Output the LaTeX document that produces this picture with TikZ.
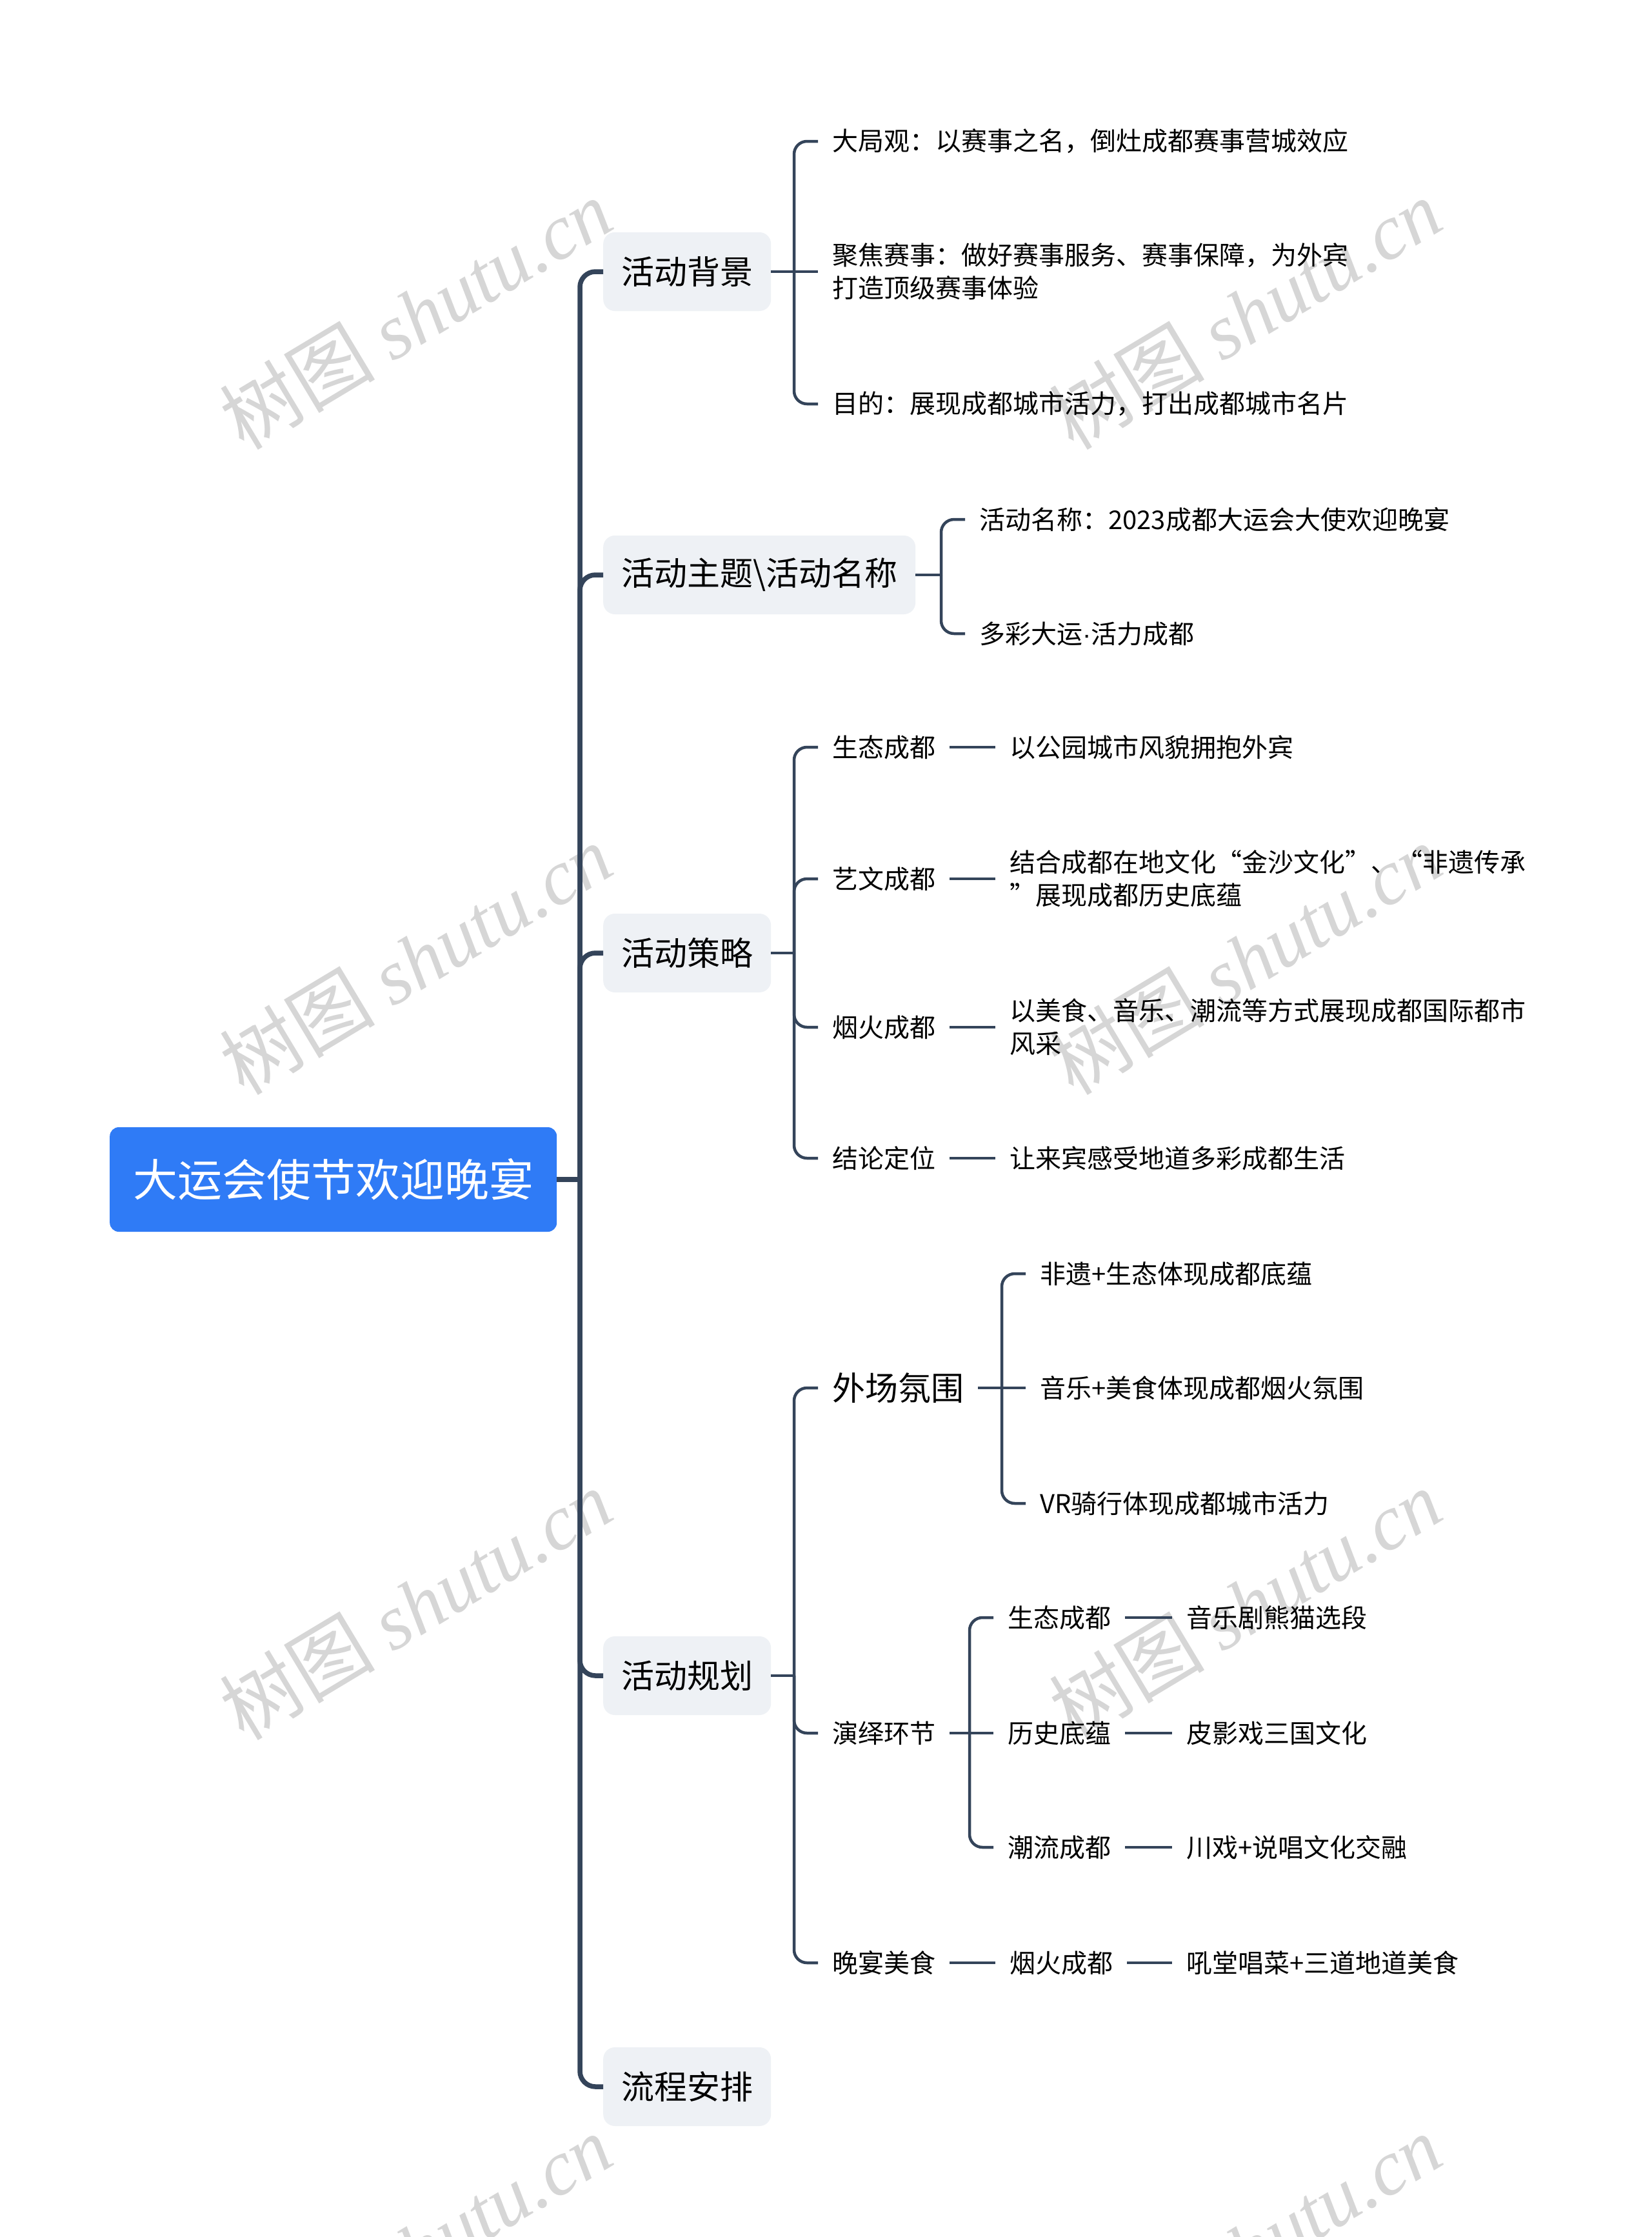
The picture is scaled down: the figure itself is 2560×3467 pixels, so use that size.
\documentclass[tikz,border=0pt]{standalone}
\usepackage{fontspec}
\setmainfont{Noto Sans CJK SC}
\newfontfamily\wmlatin{Liberation Serif}
\newfontfamily\latinsans{Liberation Sans}
\definecolor{linec}{HTML}{34445A}
\definecolor{boxc}{HTML}{EEF1F5}
\definecolor{rootc}{HTML}{2F7BF6}
\definecolor{wmc}{HTML}{D6D6D6}
\begin{document}
\begin{tikzpicture}[x=1pt,y=-1pt,
  rootbox/.style={fill=rootc, rounded corners=14pt, text=white, font=\fontsize{69}{80}\selectfont, inner xsep=36pt, inner ysep=0pt, minimum height=162pt, anchor=west},
  topicbox/.style={fill=boxc, rounded corners=18pt, font=\fontsize{51}{60}\selectfont, inner xsep=28pt, inner ysep=0pt, minimum height=122pt, anchor=west},
  leaf/.style={font=\fontsize{40}{51}\selectfont, inner xsep=22pt, inner ysep=4pt, anchor=west, align=left},
  bigleaf/.style={font=\fontsize{51}{60}\selectfont, inner xsep=22pt, inner ysep=4pt, anchor=west},
  trunkline/.style={draw=linec, line width=7.5pt, rounded corners=24pt},
  branchline/.style={draw=linec, line width=4.5pt, rounded corners=20pt},
  wm/.style={text=wmc, rotate=31, anchor=base west, font=\fontsize{121}{125}\selectfont, inner sep=0pt}
]
\useasboundingbox (0,0) rectangle (2560,3467);
\clip (0,0) rectangle (2560,3467);
\fill[white] (0,0) rectangle (2560,3467);

% watermarks
\node[wm] (wm1) at (378,700) {树图 {\wmlatin\itshape shutu.cn}};
\node[wm] (wm2) at (1664,700) {树图 {\wmlatin\itshape shutu.cn}};
\node[wm] (wm3) at (378,1700) {树图 {\wmlatin\itshape shutu.cn}};
\node[wm] (wm4) at (1664,1700) {树图 {\wmlatin\itshape shutu.cn}};
\node[wm] (wm5) at (378,2700) {树图 {\wmlatin\itshape shutu.cn}};
\node[wm] (wm6) at (1664,2700) {树图 {\wmlatin\itshape shutu.cn}};
\node[wm] (wm7) at (378,3700) {树图 {\wmlatin\itshape shutu.cn}};
\node[wm] (wm8) at (1664,3700) {树图 {\wmlatin\itshape shutu.cn}};

% root and main topics
\node[rootbox] (root) at (170,1828) {大运会使节欢迎晚宴};
\coordinate (trunk) at (899,1828);
\node[topicbox] (t1) at (935,421) {活动背景};
\node[topicbox] (t2) at (935,891) {活动主题\textbackslash 活动名称};
\node[topicbox] (t3) at (935,1477) {活动策略};
\node[topicbox] (t4) at (935,2597) {活动规划};
\node[topicbox] (t5) at (935,3234) {流程安排};

% t1 children
\coordinate (j1) at (1231,421);
\node[leaf] (a1) at (1268,219) {大局观：以赛事之名，倒灶成都赛事营城效应};
\node[leaf] (a2) at (1268,421) {聚焦赛事：做好赛事服务、赛事保障，为外宾\\打造顶级赛事体验};
\node[leaf] (a3) at (1268,626) {目的：展现成都城市活力，打出成都城市名片};

% t2 children
\coordinate (j2) at (1459,891);
\node[leaf] (b1) at (1496,805) {活动名称：2023成都大运会大使欢迎晚宴};
\node[leaf] (b2) at (1496,982) {多彩大运{\latinsans ·}活力成都};

% t3 children
\coordinate (j3) at (1231,1477);
\node[leaf] (c1) at (1268,1158) {生态成都};
\node[leaf] (c2) at (1268,1362) {艺文成都};
\node[leaf] (c3) at (1268,1592) {烟火成都};
\node[leaf] (c4) at (1268,1795) {结论定位};
\node[leaf] (c1x) at (1543,1158) {以公园城市风貌拥抱外宾};
\node[leaf] (c2x) at (1543,1362) {结合成都在地文化“金沙文化”、“非遗传承\\”展现成都历史底蕴};
\node[leaf] (c3x) at (1543,1592) {以美食、音乐、潮流等方式展现成都国际都市\\风采};
\node[leaf] (c4x) at (1543,1795) {让来宾感受地道多彩成都生活};

% t4 children
\coordinate (j4) at (1231,2597);
\node[bigleaf] (d1) at (1268,2151) {外场氛围};
\node[leaf] (d2) at (1268,2686) {演绎环节};
\node[leaf] (d3) at (1268,3042) {晚宴美食};

\coordinate (j5) at (1553,2151);
\node[leaf] (e1) at (1590,1974) {非遗+生态体现成都底蕴};
\node[leaf] (e2) at (1590,2151) {音乐+美食体现成都烟火氛围};
\node[leaf] (e3) at (1590,2330) {VR骑行体现成都城市活力};

\coordinate (j6) at (1503,2686);
\node[leaf] (f1) at (1540,2507) {生态成都};
\node[leaf] (f2) at (1540,2686) {历史底蕴};
\node[leaf] (f3) at (1540,2863) {潮流成都};
\node[leaf] (f1x) at (1817,2507) {音乐剧熊猫选段};
\node[leaf] (f2x) at (1817,2686) {皮影戏三国文化};
\node[leaf] (f3x) at (1817,2863) {川戏+说唱文化交融};

\node[leaf] (g1) at (1543,3042) {烟火成都};
\node[leaf] (g1x) at (1817,3042) {吼堂唱菜+三道地道美食};

% trunk connectors
\draw[trunkline] (root.east) -- (trunk);
\foreach \t in {t1,t2,t3,t4,t5}
  \draw[trunkline] (trunk) -- (trunk |- \t.west) -- (\t.west);

% t1
\draw[branchline] (t1.east) -- (j1);
\draw[branchline] (j1) -- (j1 |- a1.west) -- (a1.west);
\draw[branchline] (j1) -- (a2.west);
\draw[branchline] (j1) -- (j1 |- a3.west) -- (a3.west);

% t2
\draw[branchline] (t2.east) -- (j2);
\draw[branchline] (j2) -- (j2 |- b1.west) -- (b1.west);
\draw[branchline] (j2) -- (j2 |- b2.west) -- (b2.west);

% t3
\draw[branchline] (t3.east) -- (j3);
\foreach \c in {c1,c2,c3,c4}{
  \draw[branchline] (j3) -- (j3 |- \c.west) -- (\c.west);
  \draw[branchline] (\c.east) -- (\c x.west);
}

% t4
\draw[branchline] (t4.east) -- (j4);
\foreach \d in {d1,d2,d3}
  \draw[branchline] (j4) -- (j4 |- \d.west) -- (\d.west);

\draw[branchline] (d1.east) -- (j5);
\draw[branchline] (j5) -- (j5 |- e1.west) -- (e1.west);
\draw[branchline] (j5) -- (e2.west);
\draw[branchline] (j5) -- (j5 |- e3.west) -- (e3.west);

\draw[branchline] (d2.east) -- (j6);
\draw[branchline] (j6) -- (j6 |- f1.west) -- (f1.west);
\draw[branchline] (j6) -- (f2.west);
\draw[branchline] (j6) -- (j6 |- f3.west) -- (f3.west);
\foreach \f in {f1,f2,f3}
  \draw[branchline] (\f.east) -- (\f x.west);

\draw[branchline] (d3.east) -- (g1.west);
\draw[branchline] (g1.east) -- (g1x.west);
\end{tikzpicture}
\end{document}
